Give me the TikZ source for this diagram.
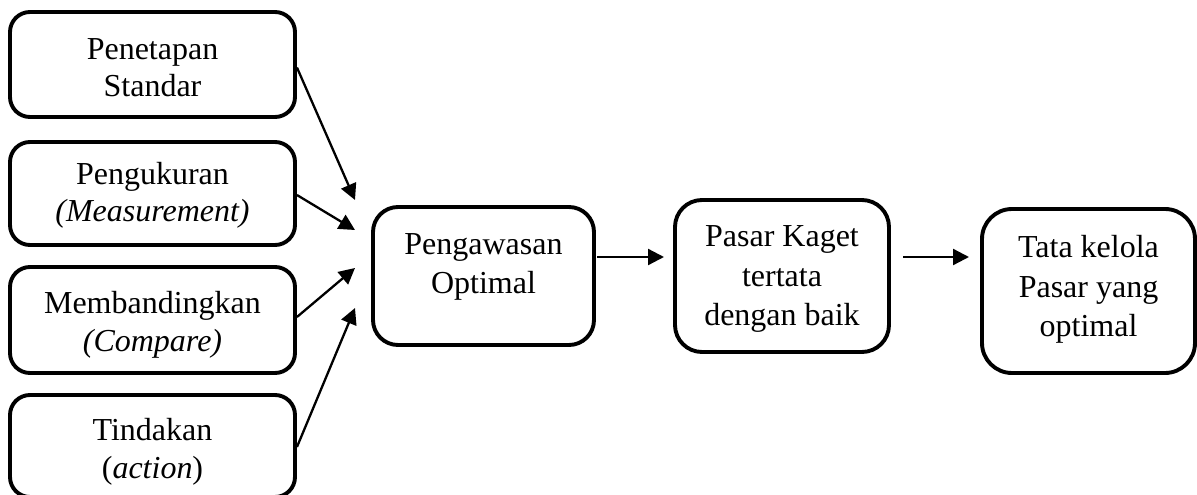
\documentclass[tikz,border=0pt]{standalone}
\usepackage{fontspec}
\setmainfont{Liberation Serif}
\usetikzlibrary{arrows.meta}
\begin{document}
\begin{tikzpicture}[x=1pt,y=-1pt,
  boxnode/.style={draw,line width=3.9pt,rounded corners=20pt,inner sep=0pt},
  lefttext/.style={align=center,inner sep=0pt,font=\fontsize{32}{37.5}\selectfont},
  righttext/.style={align=center,inner sep=0pt,font=\fontsize{32}{39.5}\selectfont},
  conn/.style={line width=2.3pt,-{Triangle[length=16pt,width=16pt]}}]
\useasboundingbox[fill=white] (0,0) rectangle (1197,495);
% left boxes
\node[boxnode,minimum width=285pt,minimum height=105pt] (b1) at (152.5,64.5) {};
\node[boxnode,minimum width=285pt,minimum height=103pt] (b2) at (152.5,193.5) {};
\node[boxnode,minimum width=285pt,minimum height=106pt] (b3) at (152.5,320) {};
\node[boxnode,minimum width=285pt,minimum height=102pt] (b4) at (152.5,446) {};
\node[lefttext] (t1) at (152.5,67.9) {Penetapan\\Standar};
\node[lefttext] (t2) at (152.5,195.4) {Pengukuran\\\textit{(Measurement)}};
\node[lefttext] (t3) at (152.5,325) {Membandingkan\\\textit{(Compare)}};
\node[lefttext] (t4) at (152.5,451.9) {Tindakan\\(\textit{action})};
% right boxes
\node[boxnode,rounded corners=25pt,minimum width=221pt,minimum height=138pt] (peng) at (483.5,276) {};
\node[boxnode,rounded corners=27pt,minimum width=214pt,minimum height=152pt] (pasar) at (782,276) {};
\node[boxnode,rounded corners=30pt,minimum width=213pt,minimum height=164pt] (tata) at (1088.5,291) {};
\node[righttext] (tp) at (483.5,266.9) {Pengawasan\\Optimal};
\node[righttext] (tk) at (782,279.3) {Pasar Kaget\\tertata\\dengan baik};
\node[righttext] (tt) at (1088.5,289.5) {Tata kelola\\Pasar yang\\optimal};
% connector ends
\coordinate (e1) at (355,200);
\coordinate (e2) at (355,230);
\coordinate (e3) at (355,268);
\coordinate (e4) at (355,308);
\coordinate (h1s) at (597,257);
\coordinate (h1e) at (664,257);
\coordinate (h2s) at (903,257);
\coordinate (h2e) at (969,257);
\draw[conn] ([yshift=-3pt]b1.east) -- (e1);
\draw[conn] ([yshift=-1.5pt]b2.east) -- (e2);
\draw[conn] ([yshift=3pt]b3.east) -- (e3);
\draw[conn] ([yshift=-1pt]b4.east) -- (e4);
\draw[conn] (h1s) -- (h1e);
\draw[conn] (h2s) -- (h2e);
\end{tikzpicture}
\end{document}
